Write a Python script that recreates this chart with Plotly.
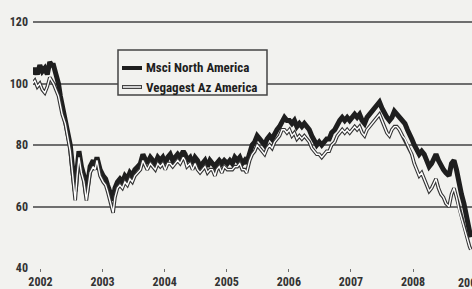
import plotly.graph_objects as go

# decimal-year time points
years = [
    2001.87, 2001.91, 2001.95, 2001.99, 2002.03, 2002.07, 2002.11, 2002.15, 2002.18, 2002.21,
    2002.25, 2002.29, 2002.32, 2002.35, 2002.40, 2002.44, 2002.48, 2002.52, 2002.56, 2002.59,
    2002.62, 2002.66, 2002.70, 2002.74, 2002.77, 2002.80, 2002.85, 2002.88, 2002.91, 2002.96,
    2003.01, 2003.05, 2003.08, 2003.12, 2003.15, 2003.17, 2003.20, 2003.24, 2003.28, 2003.32,
    2003.36, 2003.40, 2003.44, 2003.48, 2003.52, 2003.57, 2003.61, 2003.65, 2003.69, 2003.72,
    2003.77, 2003.81, 2003.85, 2003.89, 2003.93, 2003.97, 2004.01, 2004.05, 2004.09, 2004.13,
    2004.17, 2004.21, 2004.25, 2004.30, 2004.33, 2004.36, 2004.41, 2004.45, 2004.49, 2004.53,
    2004.57, 2004.61, 2004.65, 2004.69, 2004.73, 2004.77, 2004.81, 2004.84, 2004.88, 2004.92,
    2004.96, 2005.01, 2005.05, 2005.09, 2005.13, 2005.17, 2005.21, 2005.25, 2005.29, 2005.32,
    2005.37, 2005.41, 2005.45, 2005.49, 2005.53, 2005.57, 2005.61, 2005.65, 2005.69, 2005.73,
    2005.77, 2005.81, 2005.85, 2005.89, 2005.93, 2005.97, 2006.01, 2006.05, 2006.09, 2006.13,
    2006.17, 2006.21, 2006.25, 2006.29, 2006.33, 2006.37, 2006.41, 2006.45, 2006.49, 2006.53,
    2006.57, 2006.61, 2006.65, 2006.69, 2006.74, 2006.78, 2006.82, 2006.86, 2006.90, 2006.94,
    2006.98, 2007.02, 2007.06, 2007.10, 2007.14, 2007.18, 2007.22, 2007.26, 2007.30, 2007.34,
    2007.38, 2007.42, 2007.46, 2007.50, 2007.54, 2007.58, 2007.62, 2007.66, 2007.70, 2007.74,
    2007.78, 2007.83, 2007.87, 2007.91, 2007.94, 2007.98, 2008.02, 2008.06, 2008.10, 2008.14,
    2008.18, 2008.22, 2008.26, 2008.30, 2008.34, 2008.37, 2008.41, 2008.45, 2008.49, 2008.53,
    2008.58, 2008.62, 2008.66, 2008.70, 2008.74, 2008.78, 2008.82, 2008.85, 2008.88, 2008.91,
    2008.93,
]

msci_north_america = [
    103, 105, 103, 106, 104, 105, 103, 107, 106, 106,
    103, 100, 96, 93, 89, 85, 80, 72, 65, 72,
    78, 73, 70, 64, 69, 73, 75, 73, 76, 72,
    70, 69, 67, 64, 63, 62, 66, 68, 69, 68,
    70, 69, 71, 70, 72, 73, 74, 77, 75, 74,
    76, 75, 74, 76, 75, 76, 74, 76, 77, 75,
    76, 77, 76, 78, 77, 75, 76, 74, 76, 75,
    73, 74, 75, 73, 75, 74, 73, 74, 75, 74,
    75, 74, 75, 74, 76, 75, 76, 74, 75, 74,
    78, 80, 81, 83, 82, 81, 80, 82, 83, 82,
    84, 85, 86, 88, 89, 88, 88, 87, 88, 86,
    87, 86, 87, 86, 85, 83, 81, 80, 81, 80,
    81, 82, 82, 84, 85, 87, 88, 89, 88, 89,
    88, 89, 90, 89, 90, 88, 87, 89, 90, 91,
    92, 93, 94, 92, 90, 89, 88, 89, 91, 90,
    89, 88, 87, 85, 84, 82, 80, 78, 77, 78,
    77, 75, 73, 74, 76, 77, 75, 73, 72, 71,
    70, 74, 75, 72, 67, 64, 61, 58, 55, 52,
    50,
]

vegagest_az_america = [
    100, 101, 99, 100, 98, 97, 99, 102, 101, 100,
    98, 96, 93, 90, 87, 83, 78, 70, 62, 70,
    76, 71, 68, 62, 67, 71, 73, 72, 75, 70,
    68, 67, 65, 62, 60, 58, 63, 66, 67, 66,
    68, 67, 69, 68, 70, 71, 72, 75, 73, 72,
    74, 73, 72, 74, 73, 74, 72, 74, 74, 73,
    74, 75, 74, 76, 75, 73, 74, 72, 74, 72,
    71, 72, 73, 71, 72, 72, 70, 72, 73, 71,
    73, 72, 72, 72, 73, 73, 74, 72, 72, 71,
    75, 77, 78, 80, 79, 78, 77, 79, 80, 79,
    81, 82, 83, 85, 85, 84, 85, 83, 84, 82,
    83, 82, 83, 82, 81, 79, 78, 77, 77, 76,
    77, 78, 78, 80, 81, 83, 84, 85, 84, 85,
    84, 85, 86, 85, 86, 84, 83, 85, 86, 87,
    88, 89, 90, 88, 86, 84, 83, 85, 86, 86,
    85, 83, 82, 80, 79, 77, 74, 72, 70, 71,
    69, 67, 65, 66, 68, 69, 66, 64, 63, 61,
    60, 64, 66, 63, 59, 56, 53, 51, 49, 47,
    46,
]

year_ticks = [2002, 2003, 2004, 2005, 2006, 2007, 2008]
year_labels = ["2002", "2003", "2004", "2005", "2006", "2007", "2008"]
last_year_label = "2009"
value_ticks = [40, 60, 80, 100, 120]
series_names = ["Msci North America", "Vegagest Az America"]

BG = "#f2f2ef"
INK = "#1e1e1e"
GRID = "#6e6e6e"
FONT = "Liberation Sans Narrow, Roboto Condensed, Arial Narrow, Liberation Sans, sans-serif"

W, H = 472, 289
ML, MR, MT, MB = 33, 0, 0, 21
PW, PH = W - ML - MR, H - MT - MB

def px(x):
    return (x - ML) / PW

def py(y):
    return (H - MB - y) / PH

fig = go.Figure()
fig.add_trace(go.Scatter(x=years, y=msci_north_america, mode="lines",
                         line=dict(color=INK, width=5), name=series_names[0],
                         showlegend=False, hoverinfo="skip"))
fig.add_trace(go.Scatter(x=years, y=vegagest_az_america, mode="lines",
                         line=dict(color="#333333", width=3.6), showlegend=False,
                         hoverinfo="skip"))
fig.add_trace(go.Scatter(x=years, y=vegagest_az_america, mode="lines",
                         line=dict(color="#ffffff", width=1.4), name=series_names[1],
                         showlegend=False, hoverinfo="skip"))

# manual legend box
shapes = [
    dict(type="rect", xref="paper", yref="paper", x0=px(118), x1=px(267), y0=py(95), y1=py(50),
         line=dict(color="#444444", width=1.5), fillcolor=BG, layer="above"),
    dict(type="line", xref="paper", yref="paper", x0=px(122), x1=px(142), y0=py(68), y1=py(68),
         line=dict(color=INK, width=4), layer="above"),
    dict(type="line", xref="paper", yref="paper", x0=px(122), x1=px(142), y0=py(87), y1=py(87),
         line=dict(color="#444444", width=4), layer="above"),
    dict(type="line", xref="paper", yref="paper", x0=px(123), x1=px(141), y0=py(87), y1=py(87),
         line=dict(color="#ffffff", width=1.5), layer="above"),
]
annotations = [
    dict(xref="paper", yref="paper", x=px(144), y=py(68), text="<b>" + series_names[0] + "</b>",
         showarrow=False, xanchor="left", yanchor="middle",
         font=dict(family=FONT, size=13, color=INK)),
    dict(xref="paper", yref="paper", x=px(144), y=py(87), text="<b>" + series_names[1] + "</b>",
         showarrow=False, xanchor="left", yanchor="middle",
         font=dict(family=FONT, size=13, color=INK)),
    dict(xref="paper", yref="paper", x=px(456), y=py(283), text="<b>" + last_year_label + "</b>",
         showarrow=False, xanchor="left", yanchor="middle",
         font=dict(family=FONT, size=12, color="#333333")),
]

fig.update_layout(
    width=W, height=H,
    margin=dict(l=ML, r=MR, t=MT, b=MB, pad=0),
    paper_bgcolor=BG, plot_bgcolor=BG,
    showlegend=False,
    shapes=shapes, annotations=annotations,
    xaxis=dict(range=[2001.88, 2008.95], tickvals=year_ticks,
               ticktext=["<b>%s</b>" % t for t in year_labels],
               showgrid=False, zeroline=False, showline=False,
               ticks="outside", ticklen=3, tickcolor=GRID, tickwidth=1,
               tickfont=dict(family=FONT, size=12, color="#333333")),
    yaxis=dict(range=[40, 127.2], tickvals=value_ticks,
               ticktext=["<b>%d</b>" % v for v in value_ticks],
               showgrid=True, gridcolor=GRID, gridwidth=1.5, zeroline=False,
               showline=False, ticks="", ticklabelstandoff=4,
               tickfont=dict(family=FONT, size=12, color="#333333")),
)

fig.write_html("out.html", config={"displayModeBar": False},
               post_script="document.body.style.margin='0';document.body.style.background='%s';" % BG)
